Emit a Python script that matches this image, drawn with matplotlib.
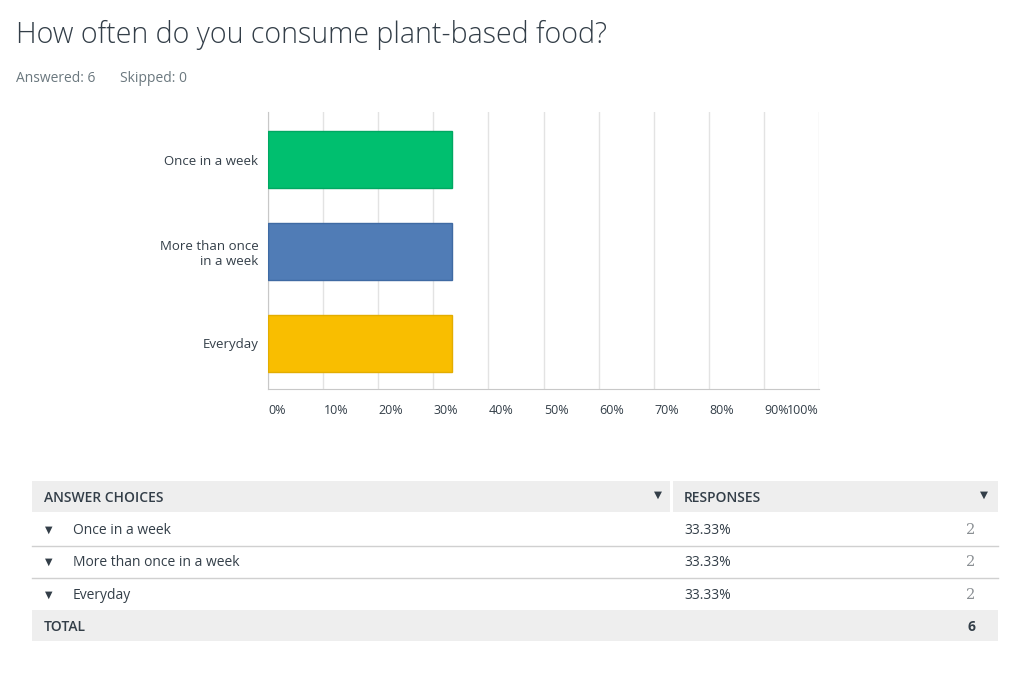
import matplotlib
matplotlib.use("Agg")
import matplotlib.pyplot as plt
from matplotlib.patches import Rectangle

title = "How often do you consume plant-based food?"
answered = 6
skipped = 0
choices = ["Once in a week", "More than once in a week", "Everyday"]
axis_labels = ["Once in a week", "More than once\nin a week", "Everyday"]
counts = [2, 2, 2]
percents = [100.0 * c / sum(counts) for c in counts]
bar_colors = ["#00BF6F", "#507CB6", "#F9BE00"]
edge_colors = ["#00A862", "#3F6AA3", "#E3AD00"]
ticks = list(range(0, 101, 10))

plt.rcParams['font.family'] = ['Open Sans', 'DejaVu Sans']

W, H = 1024, 675
fig = plt.figure(figsize=(W / 100, H / 100), dpi=100)

# bar chart
ax = fig.add_axes([268 / W, 1 - 389 / H, 551 / W, 277 / H])
ypos = list(range(len(choices)))
ax.barh(ypos, percents, height=0.62, color=bar_colors, edgecolor=edge_colors,
        linewidth=1, zorder=3)
ax.set_xlim(0, 100)
ax.set_ylim(2.5, -0.52)
ax.set_xticks(ticks)
ax.set_xticklabels([])
ax.tick_params(axis='x', length=0)
ax.set_yticks(ypos)
ax.set_yticklabels(axis_labels, fontsize=9.5, color="#333e48", linespacing=1.25)
ax.tick_params(axis='y', length=0, pad=7)
ax.grid(axis='x', color="#e3e3e3", linewidth=1, zorder=0)
for s in ["top", "right"]:
    ax.spines[s].set_visible(False)
ax.spines["left"].set_color("#c8c8c8")
ax.spines["bottom"].set_color("#c8c8c8")
for t in ticks:
    ha = "right" if t == 100 else "left"
    ax.text(t + (0 if t == 100 else 0.1), -22 / 277, "%d%%" % t,
            transform=ax.get_xaxis_transform(), ha=ha, va="center",
            fontsize=9, color="#333e48")

# overlay for title and table, pixel coordinates
ov = fig.add_axes([0, 0, 1, 1], zorder=-1)
ov.set_xlim(0, W)
ov.set_ylim(H, 0)
ov.axis("off")

ov.text(16, 35, title, fontsize=20.6, fontweight="light", color="#333e48",
        ha="left", va="center")
ov.text(16, 78, "Answered: %d" % answered, fontsize=10, color="#6b787f",
        ha="left", va="center")
ov.text(120, 78, "Skipped: %d" % skipped, fontsize=10, color="#6b787f",
        ha="left", va="center")

grey = "#eeeeee"
txt_col = "#333e48"
ov.add_patch(Rectangle((32, 481), 638, 31, color=grey, lw=0))
ov.add_patch(Rectangle((673, 481), 325, 31, color=grey, lw=0))
ov.text(44, 498, "ANSWER CHOICES", fontsize=10, fontweight="semibold",
        color=txt_col, va="center")
ov.text(684, 498, "RESPONSES", fontsize=10, fontweight="semibold",
        color=txt_col, va="center")
ov.text(658, 495, "\u25BC", fontsize=7.5, color=txt_col, ha="center", va="center",
        family="DejaVu Sans")
ov.text(984, 495, "\u25BC", fontsize=7.5, color=txt_col, ha="center", va="center",
        family="DejaVu Sans")

row_y = [529, 561, 594]
for i, name in enumerate(choices):
    y = row_y[i]
    ov.text(49, y + 1, "\u25BC", fontsize=7, color=txt_col, ha="center",
            va="center", family="DejaVu Sans")
    ov.text(73, y + 1.5, name, fontsize=10, color=txt_col, va="center")
    ov.text(684, y + 1.5, "%.2f%%" % percents[i], fontsize=10, color=txt_col,
            va="center")
    ov.text(975, y + 1, str(counts[i]), fontsize=10.5, color="#8a8f93", ha="right",
            va="center", family="DejaVu Serif")
    if i < len(choices) - 1:
        ov.plot([32, 998], [y + 16.5, y + 16.5], color="#d0d0d0", lw=1)

ov.add_patch(Rectangle((32, 610), 966, 31, color=grey, lw=0))
ov.text(44, 627, "TOTAL", fontsize=10, fontweight="semibold", color=txt_col,
        va="center")
ov.text(975, 627, str(sum(counts)), fontsize=10, fontweight="bold",
        color=txt_col, ha="right", va="center")

fig.savefig("out.png", dpi=100)
